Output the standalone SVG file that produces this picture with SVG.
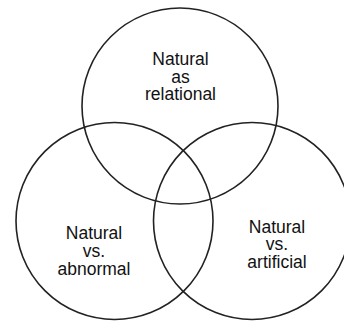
<svg xmlns="http://www.w3.org/2000/svg" width="344" height="324" viewBox="0 0 344 324">
<style>
.c{fill:none;stroke:#222;stroke-width:1.6}
.t{font-family:"Liberation Sans",Arial,sans-serif;font-size:17.5px;fill:#111;text-anchor:middle}
</style>
<rect width="344" height="324" fill="#fff"/>
<g id="relational">
<circle class="c" cx="180" cy="106" r="98"/>
<text class="t" x="180.5" y="65">Natural</text>
<text class="t" x="180.5" y="82.5">as</text>
<text class="t" x="180.5" y="100">relational</text>
</g>
<g id="abnormal">
<circle class="c" cx="114.5" cy="221" r="98.5"/>
<text class="t" x="94" y="239.3">Natural</text>
<text class="t" x="94" y="257">vs.</text>
<text class="t" x="94" y="274.5">abnormal</text>
</g>
<g id="artificial">
<circle class="c" cx="252" cy="221" r="98.5"/>
<text class="t" x="277" y="232.5">Natural</text>
<text class="t" x="277" y="250.3">vs.</text>
<text class="t" x="277" y="268.2">artificial</text>
</g>
<g id="connectors"/>
</svg>
